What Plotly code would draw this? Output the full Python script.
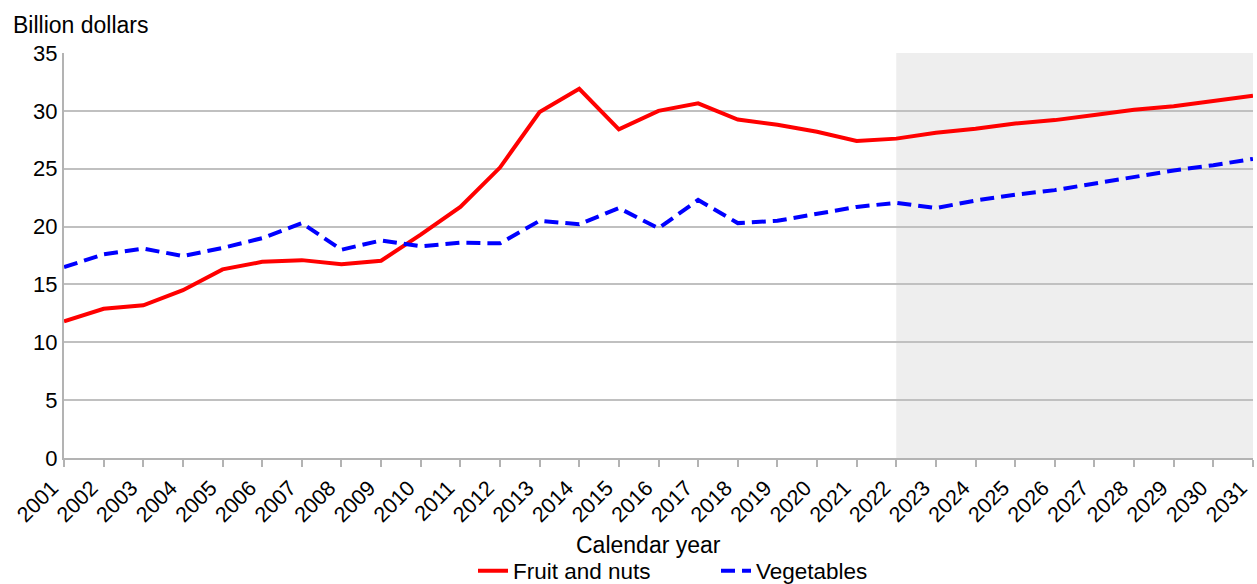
import plotly.graph_objects as go

years = list(range(2001, 2032))
fruit_nuts = [11.8, 12.9, 13.2, 14.5, 16.3, 16.95, 17.1, 16.75, 17.05, 19.3,
              21.7, 25.1, 29.9, 31.9, 28.4, 30.0, 30.65, 29.25, 28.8, 28.2,
              27.4, 27.6, 28.1, 28.45, 28.9, 29.2, 29.65, 30.1, 30.4, 30.85, 31.3]
vegetables = [16.5, 17.6, 18.1, 17.45, 18.15, 19.0, 20.3, 18.0, 18.8, 18.3,
              18.6, 18.55, 20.5, 20.2, 21.6, 19.85, 22.3, 20.3, 20.5, 21.1,
              21.7, 22.05, 21.6, 22.25, 22.75, 23.15, 23.7, 24.3, 24.85, 25.3, 25.85]
projection_start = 2022
projection_end = 2031
y_ticks = [0, 5, 10, 15, 20, 25, 30, 35]

font_family = "Liberation Sans, Arial, sans-serif"
W, H = 1257, 584
L, R, T, B = 64, 4, 53, 126
PW, PH = W - L - R, H - T - B

fig = go.Figure()
fig.add_shape(type="rect", xref="x", yref="y", x0=projection_start, x1=projection_end,
              y0=0, y1=35, fillcolor="#eeeeee", line=dict(width=0), layer="below")
fig.add_trace(go.Scatter(x=years, y=fruit_nuts, name="Fruit and nuts", mode="lines",
                         line=dict(color="#ff0000", width=4)))
fig.add_trace(go.Scatter(x=years, y=vegetables, name="Vegetables", mode="lines",
                         line=dict(color="#0000ff", width=4, dash="14px,7px")))

fig.update_layout(
    width=W, height=H,
    margin=dict(l=L, r=R, t=T, b=B, autoexpand=False),
    paper_bgcolor="white", plot_bgcolor="white",
    font=dict(family=font_family, size=22, color="black"),
    showlegend=True,
    legend=dict(orientation="h", x=473 / W, xanchor="left", xref="container",
                y=1 - 571 / H, yanchor="middle", yref="container",
                font=dict(size=22.5), bgcolor="rgba(0,0,0,0)",
                entrywidth=198, entrywidthmode="pixels", tracegroupgap=0),
    xaxis=dict(range=[2000.999, 2031.001], tickvals=years, ticktext=[str(y) for y in years],
               tickangle=-45, showgrid=False, showline=True, linecolor="#b3b3b3",
               linewidth=2, ticks="outside", ticklen=7, tickcolor="#b3b3b3",
               tickwidth=2, tickfont=dict(size=21.5), zeroline=False, automargin=False,
               ticklabeloverflow="allow", ticklabelshift=-12),
    yaxis=dict(range=[0, 35], tickvals=y_ticks, showgrid=True, gridcolor="#c0c0c0",
               gridwidth=2, showline=True, linecolor="#b3b3b3", linewidth=2,
               ticks="", tickfont=dict(size=22), zeroline=False, automargin=False),
    annotations=[
        dict(text="Billion dollars", xref="paper", yref="paper", x=(11 - L) / PW,
             y=1 + (T - 25) / PH, xanchor="left", yanchor="middle", showarrow=False,
             font=dict(size=23)),
        dict(text="Calendar year", xref="paper", yref="paper", x=(648 - L) / PW,
             y=-(545 - (T + PH)) / PH, xanchor="center", yanchor="middle", showarrow=False,
             font=dict(size=23)),
    ],
)
fig.write_html("out.html", config={"displayModeBar": False},
               post_script="document.body.style.margin='0';document.body.style.overflow='hidden';")
